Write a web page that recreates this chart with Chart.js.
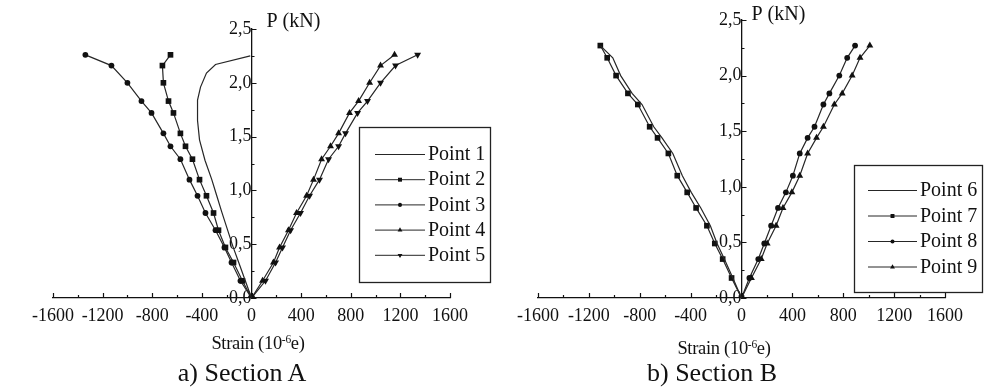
<!DOCTYPE html>
<html><head><meta charset="utf-8">
<script src="https://cdn.jsdelivr.net/npm/chart.js@4/dist/chart.umd.min.js"></script>
<style>
html,body{margin:0;padding:0;background:#fff;}
#wrap{position:relative;width:985px;height:387px;overflow:hidden;font-family:"Liberation Serif","Times New Roman",serif;color:#111;}
canvas{position:absolute;top:0;}
.t{position:absolute;width:300px;text-align:center;white-space:nowrap;}
.xt{font-size:18.5px;line-height:20px;letter-spacing:-0.3px;}
.cap{font-size:26px;line-height:28px;}
sup{font-size:0.62em;vertical-align:0.5em;line-height:0;}
</style></head>
<body><div id="wrap">
<canvas id="cA" width="492" height="387" style="left:0"></canvas>
<canvas id="cB" width="493" height="387" style="left:492px"></canvas>
<div class="t xt" style="left:108px;top:333px">Strain (10<sup>-6</sup>e)</div>
<div class="t cap" style="left:92px;top:359px">a) Section A</div>
<div class="t xt" style="left:574px;top:338px">Strain (10<sup>-6</sup>e)</div>
<div class="t cap" style="left:562px;top:359px">b) Section B</div>
</div>
<script>
// ---- Section A data (strain in 10^-6 e, load P in kN) ----
const loadA    = [0, 0.16, 0.33, 0.47, 0.63, 0.79, 0.95, 1.10, 1.29, 1.41, 1.53, 1.72, 1.83, 2.00, 2.16, 2.26];
const loadP1   = [0, 0.16, 0.32, 0.48, 0.64, 0.80, 0.95, 1.10, 1.28, 1.47, 1.65, 1.84, 1.96, 2.09, 2.17, 2.25];
const strainP1 = [0, -50, -100, -150, -195, -240, -280, -320, -375, -419, -435, -435, -411, -363, -290, -10];
const strainP2 = [0, -73, -145, -210, -266, -306, -363, -419, -476, -532, -573, -629, -669, -710, -718, -653];
const strainP3 = [0, -89, -161, -218, -290, -371, -435, -500, -573, -653, -710, -806, -887, -1000, -1129, -1339];
const strainP4 = [0, 89, 177, 226, 298, 363, 444, 500, 565, 637, 702, 790, 863, 952, 1040, 1153];
const strainP5 = [0, 113, 194, 250, 315, 395, 468, 548, 621, 702, 758, 855, 935, 1040, 1161, 1339];
// ---- Section B data ----
const loadB    = [0, 0.18, 0.35, 0.49, 0.65, 0.81, 0.95, 1.10, 1.30, 1.44, 1.54, 1.74, 1.84, 2.00, 2.16, 2.27];
const strainP6 = [0, -68, -135, -192, -245, -320, -395, -465, -540, -625, -690, -782, -860, -950, -1012, -1110];
const strainP7 = [0, -78, -148, -210, -272, -357, -427, -505, -575, -660, -722, -815, -893, -986, -1056, -1110];
const strainP8 = [0, 62, 132, 179, 233, 287, 349, 404, 458, 520, 574, 644, 691, 769, 831, 893];
const strainP9 = [0, 78, 155, 202, 272, 326, 396, 458, 520, 590, 644, 730, 792, 870, 932, 1009];
// ---- ticks ----
const xTicks = [-1600, -1200, -800, -400, 0, 400, 800, 1200, 1600];
const xTickLabels = ['-1600', '-1200', '-800', '-400', '0', '400', '800', '1200', '1600'];
const yTicks = [0, 0.5, 1.0, 1.5, 2.0, 2.5];
const yTickLabels = ['0,0', '0,5', '1,0', '1,5', '2,0', '2,5'];
const yTitle = 'P (kN)';
const seriesNamesA = ['Point 1', 'Point 2', 'Point 3', 'Point 4', 'Point 5'];
const seriesNamesB = ['Point 6', 'Point 7', 'Point 8', 'Point 9'];

const FONT = '"Liberation Serif", "Times New Roman", serif';
const INK = '#111';

function toXY(xs, ys) { return xs.map((x, i) => ({x: x, y: ys[i]})); }
function series(label, xs, ys, style, radius, rotation) {
  return {
    label: label, data: toXY(xs, ys), showLine: true, tension: 0,
    borderColor: '#262626', borderWidth: 1.2,
    pointStyle: style || 'circle', pointRadius: radius, pointRotation: rotation || 0,
    pointBackgroundColor: INK, pointBorderColor: INK, pointBorderWidth: 0,
    pointHoverRadius: radius
  };
}

const decor = {
  id: 'decor',
  afterDraw(chart, args, o) {
    const ctx = chart.ctx, xs = chart.scales.x, ys = chart.scales.y;
    const x0 = xs.getPixelForValue(0), yb = ys.getPixelForValue(0);
    ctx.save();
    ctx.strokeStyle = INK; ctx.lineWidth = 1.2;
    ctx.beginPath();
    for (let v = xs.min; v <= xs.max; v += 200) {
      const px = Math.round(xs.getPixelForValue(v)) + 0.5;
      const len = (v % 400 === 0) ? 5 : 3;
      ctx.moveTo(px, yb); ctx.lineTo(px, yb - len);
    }
    for (let k = 0; k <= 10; k++) {
      const v = k * 0.25;
      const py = Math.round(ys.getPixelForValue(v)) + 0.5;
      const len = (k % 2 === 0) ? 5 : 3;
      ctx.moveTo(x0, py); ctx.lineTo(x0 + len, py);
    }
    ctx.stroke();
    // axis title near top of y axis
    ctx.fillStyle = INK; ctx.font = '20px ' + FONT;
    ctx.textAlign = 'left'; ctx.textBaseline = 'middle';
    ctx.fillText(yTitle, x0 + o.titleDx, ys.top + o.titleDy);
    // framed legend
    const L = o.legend;
    ctx.fillStyle = '#fff';
    ctx.fillRect(L.x1, L.y1, L.x2 - L.x1, L.y2 - L.y1);
    ctx.strokeStyle = '#222'; ctx.lineWidth = 1.3;
    ctx.strokeRect(L.x1 + 0.5, L.y1 + 0.5, L.x2 - L.x1, L.y2 - L.y1);
    chart.data.datasets.forEach((ds, i) => {
      const y = L.row0 + i * L.gap;
      ctx.strokeStyle = ds.borderColor; ctx.lineWidth = 1;
      ctx.beginPath(); ctx.moveTo(L.lx0, y + 0.5); ctx.lineTo(L.lx1, y + 0.5); ctx.stroke();
      if (ds.pointRadius > 0) {
        ctx.fillStyle = INK; ctx.strokeStyle = INK;
        Chart.helpers.drawPoint(ctx, {pointStyle: ds.pointStyle, rotation: ds.pointRotation, radius: ds.pointRadius * 0.7, borderWidth: 0}, (L.lx0 + L.lx1) / 2, y + 0.5);
      }
      ctx.fillStyle = INK; ctx.font = '20px ' + FONT;
      ctx.textAlign = 'left'; ctx.textBaseline = 'middle';
      ctx.fillText(ds.label, L.tx, y + 1);
    });
    ctx.restore();
  }
};

function makeChart(id, datasets, padding, decorOpts) {
  return new Chart(document.getElementById(id), {
    type: 'scatter',
    data: {datasets: datasets},
    plugins: [decor],
    options: {
      responsive: false, animation: false, events: [], devicePixelRatio: 1,
      layout: {padding: padding},
      plugins: {legend: {display: false}, tooltip: {enabled: false}, decor: decorOpts},
      scales: {
        x: {
          type: 'linear', min: -1600, max: 1600, position: 'bottom',
          afterBuildTicks: s => { s.ticks = xTicks.map(v => ({value: v})); },
          afterFit: s => { s.height = 28; },
          ticks: {callback: (v, i) => xTickLabels[i], font: {family: FONT, size: 18}, color: INK, padding: 7, maxRotation: 0, autoSkip: false},
          grid: {display: true, drawOnChartArea: false, drawTicks: false},
          border: {display: true, color: INK, width: 1.3}
        },
        y: {
          type: 'linear', min: 0, max: 2.5, position: {x: 0},
          afterBuildTicks: s => { s.ticks = yTicks.map(v => ({value: v})); },
          ticks: {callback: (v, i) => yTickLabels[i], font: {family: FONT, size: 18}, color: INK, padding: 5, autoSkip: false},
          grid: {display: true, drawOnChartArea: false, drawTicks: false},
          border: {display: true, color: INK, width: 1.3}
        }
      }
    }
  });
}

makeChart('cA', [
  series(seriesNamesA[0], strainP1, loadP1, 'circle', 0),
  series(seriesNamesA[1], strainP2, loadA, 'rect', 4),
  series(seriesNamesA[2], strainP3, loadA, 'circle', 2.9),
  series(seriesNamesA[3], strainP4, loadA, 'triangle', 4),
  series(seriesNamesA[4], strainP5, loadA, 'triangle', 4, 180)
], {left: 53, right: 42, top: 29, bottom: 61},
{titleDx: 15, titleDy: -7, legend: {x1: 359, y1: 127, x2: 490, y2: 282, row0: 154, gap: 25.2, lx0: 375, lx1: 425, tx: 428}});

makeChart('cB', [
  series(seriesNamesB[0], strainP6, loadB, 'circle', 0),
  series(seriesNamesB[1], strainP7, loadB, 'rect', 4),
  series(seriesNamesB[2], strainP8, loadB, 'circle', 2.9),
  series(seriesNamesB[3], strainP9, loadB, 'triangle', 4)
], {left: 46, right: 40, top: 20, bottom: 61},
{titleDx: 10, titleDy: -5, legend: {x1: 362, y1: 165, x2: 490, y2: 292, row0: 190, gap: 25.5, lx0: 376, lx1: 425, tx: 428}});
</script>
</body></html>
